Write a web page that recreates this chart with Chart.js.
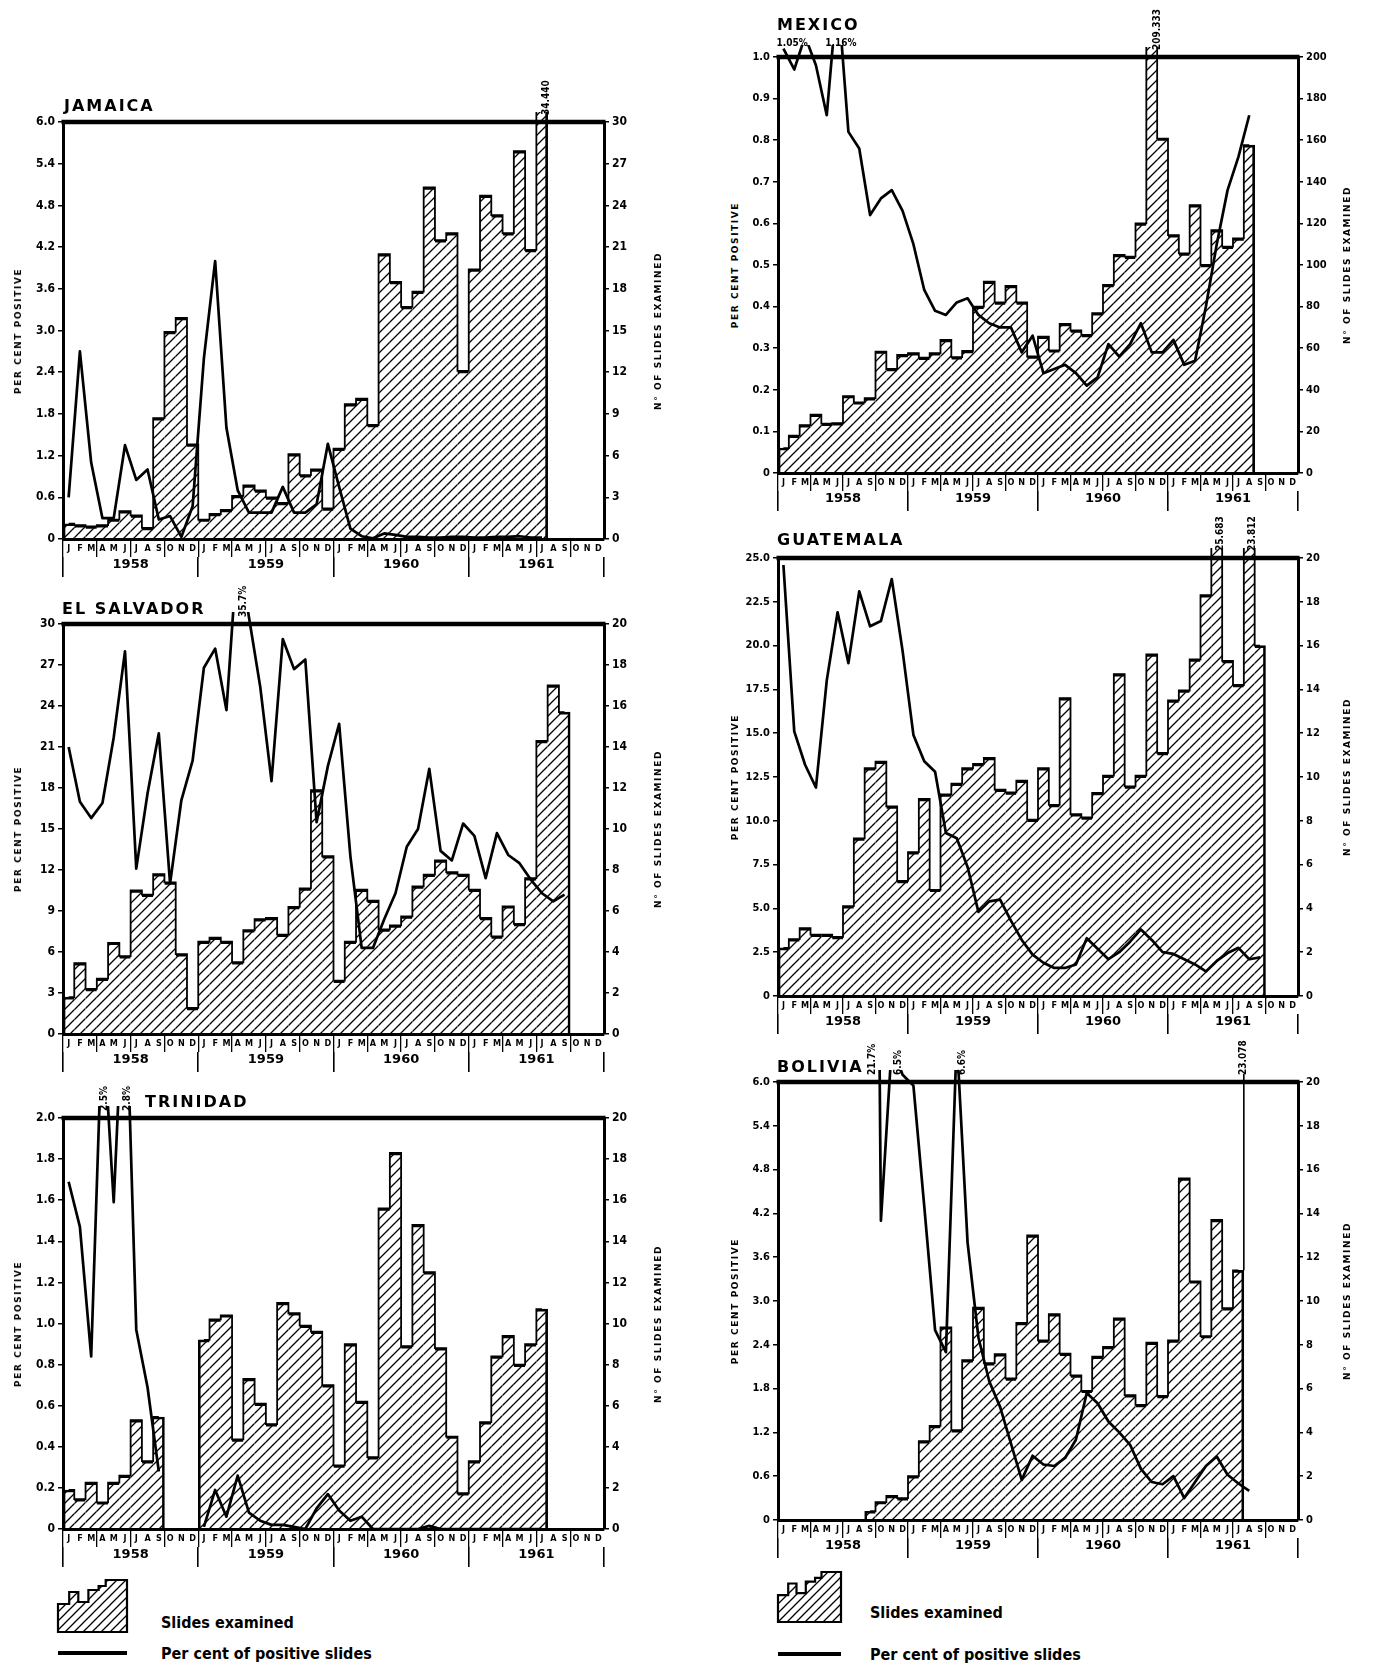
<!DOCTYPE html>
<html><head><meta charset="utf-8"><title>Slides examined and per cent positive</title>
<script src="https://cdn.jsdelivr.net/npm/chart.js@4.4.1/dist/chart.umd.min.js"></script>
<style>
html,body{margin:0;padding:0;background:#fff;}
body{position:relative;width:1373px;height:1666px;overflow:hidden;}
canvas{position:absolute;}
.ttl{position:absolute;font-family:'DejaVu Sans',sans-serif;font-weight:bold;font-size:16px;letter-spacing:2px;line-height:18px;color:#000;white-space:nowrap;transform:translateY(-50%);}
.axt{position:absolute;font-family:'DejaVu Sans',sans-serif;font-weight:bold;font-size:9px;letter-spacing:1.6px;white-space:nowrap;color:#000;transform:translate(-50%,-50%) rotate(-90deg);}
.lt{position:absolute;font-family:'Liberation Sans Narrow','DejaVu Sans Condensed',sans-serif;font-weight:bold;font-size:16px;color:#000;white-space:nowrap;transform:translateY(-50%);}
.ll{position:absolute;height:4px;background:#000;}
svg{position:absolute;}
</style></head><body>
<script>
// ---------- axis categories ----------
const monthInitials = ['J','F','M','A','M','J','J','A','S','O','N','D'];
const years = ['1958','1959','1960','1961'];

// ---------- JAMAICA ----------
const jamaicaSlides = [1.1,1.0,0.9,1.0,1.4,2.0,1.7,0.8,8.7,14.9,15.9,6.8,
  1.4,1.8,2.1,3.1,3.85,3.5,3.0,2.6,6.1,4.6,5.0,2.2,
  6.5,9.7,10.1,8.2,20.5,18.5,16.7,17.8,25.3,21.5,22.0,12.1,
  19.4,24.7,23.3,22.0,27.9,20.8,34.44,null,null,null,null,null];
const jamaicaPct = [0.6,2.7,1.1,0.3,0.3,1.35,0.85,1.0,0.28,0.33,0.03,0.47,
  2.6,4.0,1.6,0.7,0.38,0.38,0.38,0.75,0.38,0.38,0.5,1.37,
  0.75,0.15,0.04,0.01,0.08,0.06,0.03,0.03,0.02,0.02,0.03,0.03,
  0.02,0.02,0.03,0.03,0.04,0.02,0.02,null,null,null,null,null];
const jamaicaPctTicks = ['0','0.6','1.2','1.8','2.4','3.0','3.6','4.2','4.8','5.4','6.0'];
const jamaicaSlideTicks = ['0','3','6','9','12','15','18','21','24','27','30'];
const jamaicaNotes = [{at:42.4, text:'34.440', rot:true}];

// ---------- MEXICO ----------
const mexicoSlides = [12,18,23,28,23.7,24,37,34,36,58.4,50,56.8,
  57.6,55.5,57.6,64,55.7,58.7,80,92,82,90,82,56,
  65.6,59,71.7,68.5,66.4,76.8,90.4,104.8,104,120,209.333,160.8,
  114.4,105.6,128.8,100,116.8,108.8,112.8,157.6,null,null,null,null];
const mexicoPct = [1.02,0.97,1.05,0.98,0.86,1.16,0.82,0.78,0.62,0.66,0.68,0.63,
  0.55,0.44,0.39,0.38,0.41,0.42,0.38,0.36,0.35,0.35,0.29,0.33,
  0.24,0.25,0.26,0.24,0.21,0.23,0.31,0.28,0.31,0.36,0.29,0.29,
  0.32,0.26,0.27,0.40,0.55,0.68,0.76,0.86,null,null,null,null];
const mexicoPctTicks = ['0','0.1','0.2','0.3','0.4','0.5','0.6','0.7','0.8','0.9','1.0'];
const mexicoSlideTicks = ['0','20','40','60','80','100','120','140','160','180','200'];
const mexicoNotes = [{at:0.8, text:'1.05%', rot:false},{at:5.3, text:'1.16%', rot:false},{at:34.5, text:'209.333', rot:true}];

// ---------- EL SALVADOR ----------
const salvadorSlides = [1.8,3.46,2.2,2.7,4.45,3.8,7.0,6.8,7.8,7.4,3.9,1.27,
  4.5,4.7,4.5,3.5,5.06,5.6,5.66,4.85,6.2,7.1,11.9,8.67,
  2.6,4.5,7.04,6.5,5.1,5.3,5.74,7.2,7.77,8.47,7.9,7.77,
  7.04,5.66,4.76,6.23,5.37,7.6,14.3,17.0,15.7,null,null,null];
const salvadorPct = [21.0,17.0,15.8,16.9,21.7,28.0,12.1,17.6,22.0,11.0,17.1,20.0,
  26.8,28.2,23.7,35.7,30.5,25.4,18.5,28.9,26.7,27.4,15.5,19.6,
  22.7,13.0,6.3,6.3,8.4,10.3,13.7,15.0,19.4,13.4,12.7,15.4,
  14.5,11.4,14.7,13.1,12.5,11.3,10.3,9.7,10.2,null,null,null];
const salvadorPctTicks = ['0','3','6','9','12','15','18','21','24','27','30'];
const salvadorSlideTicks = ['0','2','4','6','8','10','12','14','16','18','20'];
const salvadorNotes = [{at:15.5, text:'35.7%', rot:true}];

// ---------- GUATEMALA ----------
const guatemalaSlides = [2.2,2.6,3.1,2.8,2.8,2.7,4.1,7.2,10.4,10.7,8.66,5.26,
  6.57,9.0,4.85,9.2,9.7,10.4,10.6,10.87,9.42,9.3,9.83,8.05,
  10.4,8.73,13.6,8.3,8.15,9.27,10.06,14.7,9.57,10.06,15.6,11.1,
  13.5,13.95,15.37,18.3,25.683,15.3,14.2,23.812,16.0,null,null,null];
const guatemalaPct = [24.6,15.1,13.2,11.9,18.0,21.9,19.0,23.1,21.1,21.4,23.8,19.7,
  14.9,13.4,12.8,9.3,9.0,7.36,4.8,5.4,5.5,4.3,3.2,2.36,
  1.9,1.6,1.6,1.8,3.3,2.7,2.1,2.5,3.1,3.8,3.2,2.5,
  2.4,2.1,1.8,1.4,2.0,2.45,2.75,2.1,2.2,null,null,null];
const guatemalaPctTicks = ['0','2.5','5.0','7.5','10.0','12.5','15.0','17.5','20.0','22.5','25.0'];
const guatemalaSlideTicks = ['0','2','4','6','8','10','12','14','16','18','20'];
const guatemalaNotes = [{at:40.3, text:'25.683', rot:true},{at:43.3, text:'23.812', rot:true}];

// ---------- TRINIDAD ----------
const trinidadSlides = [1.9,1.45,2.26,1.3,2.26,2.6,5.3,3.3,5.45,null,null,null,
  9.2,10.2,10.4,4.36,7.3,6.1,5.1,11.0,10.5,9.9,9.6,7.0,
  3.1,9.0,6.2,3.5,15.6,18.3,8.9,14.8,12.5,8.8,4.5,1.74,
  3.3,5.2,8.4,9.4,8.0,9.0,10.7,null,null,null,null,null];
const trinidadPct = [1.69,1.47,0.84,2.5,1.59,2.8,0.97,0.69,0.28,null,null,null,
  0.01,0.19,0.06,0.26,0.08,0.04,0.02,0.02,0.01,0.0,0.1,0.17,
  0.09,0.04,0.06,0.0,0.0,0.0,0.0,0.0,0.015,0.0,0.0,0.0,
  0.0,0.0,0.0,0.0,0.0,0.0,0.0,null,null,null,null,null];
const trinidadPctTicks = ['0','0.2','0.4','0.6','0.8','1.0','1.2','1.4','1.6','1.8','2.0'];
const trinidadSlideTicks = ['0','2','4','6','8','10','12','14','16','18','20'];
const trinidadNotes = [{at:3.2, text:'2.5%', rot:true},{at:5.2, text:'2.8%', rot:true}];

// ---------- BOLIVIA ----------
const boliviaSlides = [null,null,null,null,null,null,null,null,0.4,0.82,1.1,1.0,
  2.0,3.6,4.3,8.8,4.1,7.3,9.7,7.16,7.57,6.47,9.0,13.0,
  8.2,9.4,7.6,6.6,5.9,7.46,7.9,9.2,5.7,5.26,8.1,5.67,
  8.2,15.6,10.9,8.4,13.7,9.67,11.4,null,null,null,null,null];
const boliviaPct = [null,null,null,null,null,null,null,null,21.7,4.1,6.5,6.1,
  5.95,4.3,2.6,2.3,6.6,3.8,2.5,1.9,1.55,1.05,0.55,0.88,
  0.76,0.74,0.85,1.1,1.74,1.6,1.35,1.2,1.03,0.7,0.52,0.49,
  0.6,0.3,0.52,0.74,0.87,0.62,0.5,0.4,null,null,null,null];
const boliviaPctTicks = ['0','0.6','1.2','1.8','2.4','3.0','3.6','4.2','4.8','5.4','6.0'];
const boliviaSlideTicks = ['0','2','4','6','8','10','12','14','16','18','20'];
const boliviaNotes = [{at:8.2, text:'21.7%', rot:true},{at:10.6, text:'6.5%', rot:true},{at:16.5, text:'6.6%', rot:true},{at:42.5, text:'23.078', rot:true, leader:boliviaSlides[42]}];

// ---------- layout (not data) ----------
const columns = [
  {left:0,   width:700, leftW:63, rightW:96, axTitleL:18,  axTitleR:658, tick:12},
  {left:740, width:633, leftW:38, rightW:75, axTitleL:735, axTitleR:1347, tick:11}
];
const panels = [
  {name:'JAMAICA',     col:0, top:122,  bottom:539,  tx:64,  ty:106,  pct:jamaicaPct,   slides:jamaicaSlides,   pctTicks:jamaicaPctTicks,   slideTicks:jamaicaSlideTicks,   notes:jamaicaNotes},
  {name:'EL SALVADOR', col:0, top:624,  bottom:1034, tx:62,  ty:609,  pct:salvadorPct,  slides:salvadorSlides,  pctTicks:salvadorPctTicks,  slideTicks:salvadorSlideTicks,  notes:salvadorNotes},
  {name:'TRINIDAD',    col:0, top:1118, bottom:1529, tx:145, ty:1102, pct:trinidadPct,  slides:trinidadSlides,  pctTicks:trinidadPctTicks,  slideTicks:trinidadSlideTicks,  notes:trinidadNotes},
  {name:'MEXICO',      col:1, top:57,   bottom:473,  tx:777, ty:25,   pct:mexicoPct,    slides:mexicoSlides,    pctTicks:mexicoPctTicks,    slideTicks:mexicoSlideTicks,    notes:mexicoNotes},
  {name:'GUATEMALA',   col:1, top:558,  bottom:996,  tx:777, ty:540,  pct:guatemalaPct, slides:guatemalaSlides, pctTicks:guatemalaPctTicks, slideTicks:guatemalaSlideTicks, notes:guatemalaNotes},
  {name:'BOLIVIA',     col:1, top:1082, bottom:1520, tx:777, ty:1067, pct:boliviaPct,   slides:boliviaSlides,   pctTicks:boliviaPctTicks,   slideTicks:boliviaSlideTicks,   notes:boliviaNotes}
];

const months = years.flatMap(() => monthInitials);
const yearTickValues = [];
years.forEach((y, k) => { yearTickValues.push(k*12 - 0.5, k*12 + 5.5); });
yearTickValues.push(years.length*12 - 0.5);

const NARROW = "'Liberation Sans Narrow','DejaVu Sans Condensed',sans-serif";
const PAD_TOP = 50, XH = 18, X2H = 20, PAD_BOT = 2;

function hatchFor(chart) {
  if (!chart.$hatch) {
    const c = document.createElement('canvas'); c.width = 10; c.height = 10;
    const g = c.getContext('2d');
    g.strokeStyle = '#000'; g.lineWidth = 1.3;
    g.beginPath();
    g.moveTo(0,10); g.lineTo(10,0);
    g.moveTo(-3,3); g.lineTo(3,-3);
    g.moveTo(7,13); g.lineTo(13,7);
    g.stroke();
    chart.$hatch = chart.ctx.createPattern(c, 'repeat');
  }
  return chart.$hatch;
}
function xAt(chart, v) {
  const s = chart.scales.x;
  const i0 = Math.floor(v), f = v - i0;
  const p0 = s.getPixelForValue(i0), p1 = s.getPixelForValue(i0 + 1);
  return p0 + (p1 - p0) * f;
}
const framePlugin = {
  id: 'frame',
  afterDatasetsDraw(chart, args, opts) {
    const {ctx, chartArea: a} = chart;
    const y2 = chart.scales.y2;
    ctx.save();
    ctx.strokeStyle = '#000'; ctx.fillStyle = '#000';
    ctx.lineWidth = 4.5;
    ctx.beginPath(); ctx.moveTo(a.left - 1.5, a.top); ctx.lineTo(a.right + 1.5, a.top); ctx.stroke();
    ctx.font = "bold 10px " + NARROW;
    (opts.notes || []).forEach(n => {
      const x = xAt(chart, n.at);
      if (n.leader != null) {
        ctx.lineWidth = 1.6;
        ctx.beginPath(); ctx.moveTo(x, y2.getPixelForValue(n.leader)); ctx.lineTo(x, a.top - 8); ctx.stroke();
      }
      if (n.rot) {
        ctx.save(); ctx.translate(x, a.top - 7); ctx.rotate(-Math.PI / 2);
        ctx.textAlign = 'left'; ctx.textBaseline = 'middle';
        ctx.fillText(n.text, 0, 0); ctx.restore();
      } else {
        ctx.textAlign = 'center'; ctx.textBaseline = 'bottom';
        ctx.fillText(n.text, x, a.top - 9);
      }
    });
    ctx.restore();
  }
};

function addDiv(cls, text, left, top) {
  const d = document.createElement('div');
  d.className = cls; d.textContent = text;
  d.style.left = left + 'px'; d.style.top = top + 'px';
  document.body.appendChild(d);
  return d;
}

panels.forEach((p, idx) => {
  const col = columns[p.col];
  const cv = document.createElement('canvas');
  const h = PAD_TOP + (p.bottom - p.top) + XH + X2H + PAD_BOT;
  cv.width = col.width; cv.height = h;
  cv.style.left = col.left + 'px'; cv.style.top = (p.top - PAD_TOP) + 'px';
  cv.style.width = col.width + 'px'; cv.style.height = h + 'px';
  document.body.appendChild(cv);

  addDiv('ttl', p.name, p.tx, p.ty);
  const mid = (p.top + p.bottom) / 2;
  addDiv('axt', 'PER CENT POSITIVE', col.axTitleL, mid);
  addDiv('axt', 'N° OF SLIDES EXAMINED', col.axTitleR, mid);

  const tickFont = {family: NARROW, weight: 'bold', size: col.tick};
  new Chart(cv, {
    data: {
      labels: months,
      datasets: [
        {type: 'line', data: p.pct, xAxisID: 'x', yAxisID: 'y', borderColor: '#000', borderWidth: 2.7,
         borderJoinStyle: 'round', pointRadius: 0, tension: 0, fill: false, spanGaps: false, order: 0,
         clip: {left: 0, top: 12, right: 0, bottom: 3}},
        {type: 'line', data: p.slides, xAxisID: 'x', yAxisID: 'y2', stepped: 'middle', borderColor: '#000', borderWidth: 1.8,
         pointRadius: 0, fill: false, spanGaps: false, order: 1, clip: {left: 0, top: 10, right: 0, bottom: 0}},
        {type: 'bar', data: p.slides, xAxisID: 'x', yAxisID: 'y2', order: 2,
         backgroundColor: c => hatchFor(c.chart), borderColor: '#000',
         borderWidth: c => {
           const d = c.dataset.data, i = c.dataIndex;
           return {top: 2, bottom: 0,
                   left: (i === 0 || d[i-1] == null) ? 2 : 0,
                   right: (i === d.length - 1 || d[i+1] == null) ? 2 : 0};
         },
         barPercentage: 1, categoryPercentage: 1, clip: {left: 0, top: 10, right: 0, bottom: 0}}
      ]
    },
    options: {
      responsive: false, animation: false, events: [],
      layout: {padding: {top: PAD_TOP, bottom: PAD_BOT, left: 0, right: 0}},
      plugins: {legend: {display: false}, tooltip: {enabled: false}, frame: {notes: p.notes}},
      scales: {
        x: {type: 'category', offset: true, weight: 0,
            grid: {offset: true, drawOnChartArea: false, tickLength: XH, lineWidth: 1.3,
                   color: c => c.index % 3 === 0 ? '#000' : 'rgba(0,0,0,0)'},
            border: {width: 3, color: '#000'},
            ticks: {autoSkip: false, maxRotation: 0, minRotation: 0, padding: -14, color: '#000',
                    font: {family: NARROW, weight: 'bold', size: 9}},
            afterFit: s => { s.height = XH; }},
        x2: {type: 'linear', position: 'bottom', weight: 1, min: -0.5, max: years.length*12 - 0.5, offset: false,
             afterBuildTicks: s => { s.ticks = yearTickValues.map(v => ({value: v})); },
             ticks: {autoSkip: false, maxRotation: 0, minRotation: 0, padding: -20, color: '#000',
                     font: {family: "'DejaVu Sans',sans-serif", weight: 'bold', size: 13},
                     callback: (v, i) => (i % 2 ? years[(i - 1) / 2] : '')},
             grid: {drawOnChartArea: false, tickLength: X2H, lineWidth: 1.6,
                    color: c => c.index % 2 === 0 ? '#000' : 'rgba(0,0,0,0)'},
             border: {display: false},
             afterFit: s => { s.height = X2H; }},
        y: {position: 'left', min: 0, max: parseFloat(p.pctTicks[p.pctTicks.length - 1]),
            afterBuildTicks: s => { s.ticks = p.pctTicks.map(t => ({value: parseFloat(t)})); },
            afterFit: s => { s.width = col.leftW; },
            ticks: {autoSkip: false, callback: (v, i) => p.pctTicks[i], color: '#000', font: tickFont, padding: 3},
            grid: {drawOnChartArea: false, tickLength: 5, color: '#000', lineWidth: 1.5},
            border: {width: 3, color: '#000'}},
        y2: {position: 'right', min: 0, max: parseFloat(p.slideTicks[p.slideTicks.length - 1]),
             afterBuildTicks: s => { s.ticks = p.slideTicks.map(t => ({value: parseFloat(t)})); },
             afterFit: s => { s.width = col.rightW; },
             ticks: {autoSkip: false, callback: (v, i) => p.slideTicks[i], color: '#000', font: tickFont, padding: 3},
             grid: {drawOnChartArea: false, tickLength: 5, color: '#000', lineWidth: 1.5},
             border: {width: 3, color: '#000'}}
      }
    },
    plugins: [framePlugin]
  });
});

// ---------- legends ----------
function legend(iconLeft, iconTop, w, hgt, textLeft, lineTop) {
  const ns = 'http://www.w3.org/2000/svg';
  const svg = document.createElementNS(ns, 'svg');
  svg.setAttribute('width', w + 4); svg.setAttribute('height', hgt + 4);
  svg.style.left = (iconLeft - 2) + 'px'; svg.style.top = (iconTop - 2) + 'px';
  const sx = w / 68, sy = hgt / 52;
  const pts = [[0,52],[0,24],[11,24],[11,12],[20,12],[20,22],[30,22],[30,10],[40,10],[40,6],[47,6],[47,0],[68,0],[68,52]];
  const d = 'M' + pts.map(q => (2 + q[0]*sx).toFixed(1) + ',' + (2 + q[1]*sy).toFixed(1)).join(' L') + ' Z';
  svg.innerHTML = '<defs><pattern id="hp' + iconLeft + '" width="9" height="9" patternUnits="userSpaceOnUse">' +
    '<path d="M0,9 L9,0 M-3,3 L3,-3 M6,12 L12,6" stroke="#000" stroke-width="1.3"/></pattern></defs>' +
    '<path d="' + d + '" fill="url(#hp' + iconLeft + ')" stroke="#000" stroke-width="2.2"/>';
  document.body.appendChild(svg);
  addDiv('lt', 'Slides examined', textLeft, iconTop + hgt - 10);
  const ln = document.createElement('div'); ln.className = 'll';
  ln.style.left = iconLeft + 'px'; ln.style.top = (lineTop - 2) + 'px'; ln.style.width = w + 'px';
  document.body.appendChild(ln);
  addDiv('lt', 'Per cent of positive slides', textLeft, lineTop);
}
legend(58, 1580, 69, 52, 161, 1653);
legend(778, 1572, 63, 50, 870, 1654);
</script>
</body></html>
